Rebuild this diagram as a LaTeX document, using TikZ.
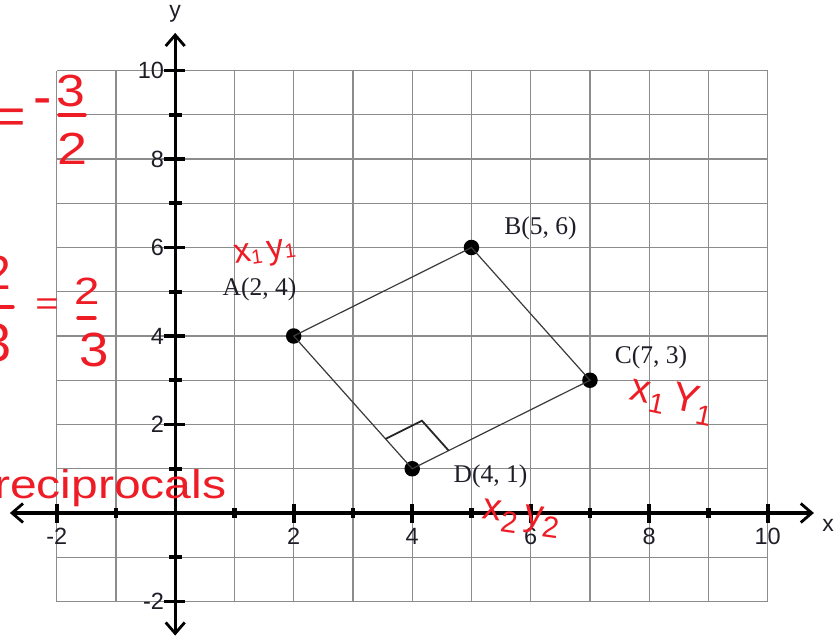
\documentclass[tikz,border=0pt]{standalone}
\usepackage{fontspec}
\setmainfont{Liberation Serif}
\newfontfamily\axisfont{Liberation Sans}
\newfontfamily\handfont{Liberation Sans}
\usetikzlibrary{arrows.meta,calc}
\definecolor{gridgray}{HTML}{8C8C8C}
\definecolor{hred}{HTML}{EE1C25}
\definecolor{quadgray}{HTML}{3A3A3A}
\definecolor{labink}{HTML}{1E1E28}
\newcommand{\fs}[1]{\fontsize{#1}{#1}\selectfont}
\tikzset{
  gridline/.style={draw=gridgray,line width=1.3pt},
  axisline/.style={line width=3.4pt,
    {Straight Barb[length=11pt,width=19pt,line width=2.8pt]}-{Straight Barb[length=11pt,width=19pt,line width=2.8pt]}},
  majortick/.style={line width=3.6pt},
  minortick/.style={line width=4.2pt},
  ticklab/.style={font=\axisfont\fs{23.5}, text=labink, inner sep=0pt},
  dot/.style={circle, fill=black, inner sep=0pt, minimum size=15.5pt},
  quad/.style={draw=quadgray, line width=1.2pt},
  rightmark/.style={draw=black!85, line width=1.8pt},
  ptlab/.style={font=\fs{25.5}, text=labink, inner sep=0pt},
  hand/.style={text=hred, font=\handfont\fs{40}, inner sep=0pt},
  handbar/.style={draw=hred, line width=3.4pt, line cap=round}
}
\begin{document}
\begin{tikzpicture}[x=1pt,y=-1pt]
\useasboundingbox (0,0) rectangle (839,637);
\clip (0,0) rectangle (839,637);
\fill[white] (0,0) rectangle (839,637);
\begin{scope}[shift={(175.2,513)}, x=59.25pt, y=44.25pt]
  % grid
  \draw[gridline, step=1] (-2,-2) grid (10,10);
  % axes
  \coordinate (xl) at (-2.79,0);
  \coordinate (xr) at (10.78,0);
  \coordinate (yb) at (0,-2.77);
  \coordinate (yt) at (0,10.85);
  \draw[axisline] (xl) -- (xr);
  \draw[axisline] (yb) -- (yt);
  % ticks
  \foreach \i in {-2,2,4,6,8,10} {
    \draw[majortick] (\i,0) +(0,9.5pt) -- +(0,-9.5pt);
    \draw[majortick] (0,\i) +(-11pt,0) -- +(10pt,0);
    \node[ticklab] (xt\i) at ([yshift=-23pt]\i,0) {\i};
    \node[ticklab, anchor=east] (yt\i) at ([xshift=-11pt]0,\i) {\i};
  }
  \foreach \i in {-1,1,3,5,7,9} {
    \draw[minortick] (\i,0) +(0,5pt) -- +(0,-5pt);
    \draw[minortick] (0,\i) +(-6pt,0) -- +(7pt,0);
  }
  % points
  \node[dot] (A) at (2,4) {};
  \node[dot] (B) at (5,6) {};
  \node[dot] (C) at (7,3) {};
  \node[dot] (D) at (4,1) {};
\end{scope}
% axis names
\node[font=\axisfont\fs{23}, text=labink, inner sep=0pt] (ylab) at (175,14) {y};
\node[font=\axisfont\fs{23}, text=labink, inner sep=0pt] (xlab) at (828,525) {x};
% quadrilateral
\draw[quad] (A.center) -- (B.center) -- (C.center) -- (D.center) -- cycle;
% right angle mark
\coordinate (ra1) at ($(D.center)!0.225!(A.center)$);
\coordinate (ra2) at ($(D.center)!0.205!(C.center)$);
\coordinate (ra3) at ($(ra1)+(ra2)-(D.center)$);
\draw[rightmark] (ra1) -- (ra3) -- (ra2);
% point labels
\node[ptlab] (labA) at (259.5,289) {A(2, 4)};
\node[ptlab] (labB) at (540.5,228) {B(5, 6)};
\node[ptlab] (labC) at (651,357) {C(7, 3)};
\node[ptlab] (labD) at (490.5,476) {D(4, 1)};
% handwriting: = - 3/2
\node[hand, font=\handfont\fs{50}] (h1) at (11,121) {=};
\node[hand, font=\handfont\fs{55}] (h2) at (43,107) {-};
\node[hand, font=\handfont\fs{45}, xscale=1.15] (h3) at (71,91) {3};
\draw[handbar] (59,115) -- (85,115);
\node[hand, font=\handfont\fs{45}, xscale=1.2] (h4) at (73,149) {2};
% partial fraction at left edge
\node[hand, font=\handfont\fs{48}] (h5) at (-2,273) {2};
\draw[handbar] (-2,307) -- (13,307);
\node[hand, font=\handfont\fs{54}] (h6) at (-3,343) {3};
% = 2/3
\node[hand, font=\handfont\fs{40}, yscale=0.8] (h7) at (47,307) {=};
\node[hand, font=\handfont\fs{38}, xscale=1.2] (h8) at (87,291) {2};
\draw[handbar] (78,318) -- (95,318);
\node[hand, font=\handfont\fs{48}, xscale=1.1] (h9) at (94,350) {3};
% x1y1 near A
\node[hand, font=\handfont\fs{34}, rotate=8] (h10) at (265,254)
  {x\raisebox{-3pt}{\fs{20}1}\,y\raisebox{-2pt}{\fs{20}1}};
% x1y1 near C
\node[hand, font=\handfont\fs{40}, rotate=-12] (h11) at (672,400)
  {x\raisebox{-8pt}{\fs{28}1}\,Y\raisebox{-10pt}{\fs{28}1}};
% x2y2 near D
\node[hand, font=\handfont\fs{38}, rotate=-8] (h12) at (521,519)
  {x\raisebox{-10pt}{\fs{30}2}\,y\raisebox{-10pt}{\fs{30}2}};
% reciprocals
\node[hand, font=\handfont\fs{40}, xscale=1.2, anchor=base west] (h13) at (-6,498) {reciprocals};
\end{tikzpicture}
\end{document}
